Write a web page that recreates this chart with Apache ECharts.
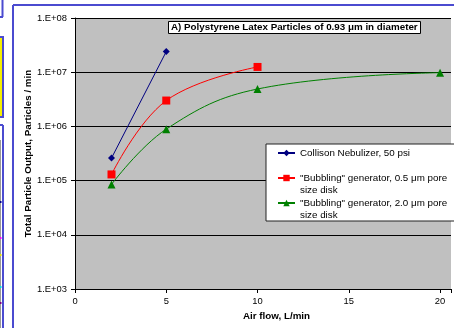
<!DOCTYPE html>
<html>
<head>
<meta charset="utf-8">
<script src="https://cdn.jsdelivr.net/npm/echarts@6/dist/echarts.min.js"></script>
<style>
html,body{margin:0;padding:0;background:#fff;}
#c{width:454px;height:328px;}
</style>
</head>
<body>
<div id="c"></div>
<script>
// ---- data ----
const titleText = 'A) Polystyrene Latex Particles of 0.93 μm in diameter';
const xAxisName = 'Air flow, L/min';
const yAxisName = 'Total Particle Output, Particles / min';
const seriesNames = [
  'Collison Nebulizer, 50 psi',
  '"Bubbling" generator, 0.5 μm pore\nsize disk',
  '"Bubbling" generator, 2.0 μm pore\nsize disk'
];
const collisonFlow = [2, 5];
const collisonOutput = [2.6e5, 2.4e7];
const bubbling05Flow = [2, 5, 10];
const bubbling05Output = [1.3e5, 3.0e6, 1.25e7];
const bubbling20Flow = [2, 5, 10, 20];
const bubbling20Output = [8.5e4, 8.9e5, 4.9e6, 9.8e6];
const xTicks = [0, 5, 10, 15, 20];

const font = 'Liberation Sans, Arial, sans-serif';
function pairs(xs, ys){ return xs.map((x,i)=>[x, ys[i]]); }

const chart = echarts.init(document.getElementById('c'), null, {renderer:'canvas'});
const option = {
  backgroundColor: '#ffffff',
  animation: false,
  title: {
    text: titleText,
    left: 168, top: 21,
    padding: [1, 3, 1, 3],
    backgroundColor: '#ffffff',
    borderColor: '#000000',
    borderWidth: 1,
    textStyle: {fontFamily: font, fontSize: 9.8, fontWeight: 'bold', color: '#000', lineHeight: 11}
  },
  legend: {
    orient: 'vertical',
    left: 277, top: 135,
    padding: 0,
    align: 'left',
    itemWidth: 17,
    itemHeight: 8,
    itemGap: -11,
    formatter: function(n){ return n.indexOf('\n') < 0 ? ' \n' + n + '\n ' : ' \n' + n; },
    textStyle: {fontFamily: font, fontSize: 9.8, color: '#000', lineHeight: 12},
    data: seriesNames
  },
  graphic: [
    // white legend box behind legend
    {type:'rect', z: 3, shape:{x:266, y:144, width:200, height:77},
     style:{fill:'#fff', stroke:'#222', lineWidth:1}},
    // outer blue frame of chart
    {type:'line', shape:{x1:13, y1:5, x2:454, y2:5}, style:{stroke:'#4b4bd0', lineWidth:2}},
    {type:'line', shape:{x1:13, y1:5, x2:13, y2:328}, style:{stroke:'#4b4bd0', lineWidth:2}},
    // fragments of neighbouring page elements on left
    {type:'line', shape:{x1:2.5, y1:0, x2:2.5, y2:17}, style:{stroke:'#4b4bd0', lineWidth:2}},
    {type:'line', shape:{x1:0, y1:17, x2:3, y2:17}, style:{stroke:'#4b4bd0', lineWidth:2}},
    {type:'rect', shape:{x:0, y:37, width:2, height:80}, style:{fill:'#f6f000'}},
    {type:'rect', shape:{x:-2, y:37, width:5, height:80}, style:{fill:'none', stroke:'#4b4bd0', lineWidth:2}},
    {type:'line', shape:{x1:0, y1:125, x2:3, y2:125}, style:{stroke:'#4b4bd0', lineWidth:2}},
    {type:'line', shape:{x1:3, y1:125, x2:3, y2:328}, style:{stroke:'#4b4bd0', lineWidth:2}},
    {type:'line', shape:{x1:0.5, y1:140, x2:0.5, y2:328}, style:{stroke:'#999', lineWidth:1}},
    {type:'rect', shape:{x:0, y:201, width:1.5, height:2}, style:{fill:'#00008b'}},
    {type:'rect', shape:{x:0, y:237, width:1.5, height:2}, style:{fill:'#ff00ff'}},
    {type:'rect', shape:{x:0, y:254, width:1.5, height:2}, style:{fill:'#e0e000'}},
    {type:'rect', shape:{x:0, y:286, width:1.5, height:2}, style:{fill:'#00e0e0'}},
    {type:'rect', shape:{x:0, y:302, width:1.5, height:2}, style:{fill:'#800080'}}
  ],
  grid: {
    left: 75, top: 18, right: 0, bottom: 39,
    show: true, backgroundColor: '#c0c0c0', borderWidth: 0
  },
  xAxis: {
    type: 'value', min: 0, max: 20.6, interval: 5,
    name: xAxisName, nameLocation: 'middle', nameGap: 17,
    nameTextStyle: {fontFamily: font, fontSize: 9.8, fontWeight: 'bold', color: '#000', padding: [0, 0, 0, 27]},
    axisLine: {show: true, onZero: false, lineStyle: {color: '#000', width: 1}},
    axisTick: {show: true, length: 4, lineStyle: {color: '#000'}},
    axisLabel: {fontFamily: font, fontSize: 9.4, color: '#000', margin: 8,
      formatter: function(v){ return xTicks.indexOf(v) >= 0 ? String(v) : ''; }},
    splitLine: {show: false}
  },
  yAxis: {
    type: 'log', logBase: 10, min: 1e3, max: 1e8,
    name: yAxisName, nameLocation: 'middle', nameGap: 42, nameMoveOverlap: false,
    nameTextStyle: {fontFamily: font, fontSize: 9.8, fontWeight: 'bold', color: '#000'},
    axisLine: {show: true, lineStyle: {color: '#000', width: 1}},
    axisTick: {show: true, length: 4, lineStyle: {color: '#000'}},
    minorTick: {show: false},
    axisLabel: {fontFamily: font, fontSize: 9.4, color: '#000', margin: 8,
      formatter: function(v){ const e = Math.round(Math.log10(v)); return '1.E+' + (e < 10 ? '0' : '') + e; }},
    splitLine: {show: true, lineStyle: {color: '#000', width: 1}}
  },
  series: [
    {name: seriesNames[0], type: 'line', data: pairs(collisonFlow, collisonOutput),
     symbol: 'diamond', symbolSize: 7, smooth: false,
     itemStyle: {color: '#000080'}, lineStyle: {color: '#000080', width: 1}},
    {name: seriesNames[1], type: 'line', data: pairs(bubbling05Flow, bubbling05Output),
     symbol: 'rect', symbolSize: 8, smooth: 0.4,
     itemStyle: {color: '#ff0000'}, lineStyle: {color: '#ff0000', width: 1}},
    {name: seriesNames[2], type: 'line', data: pairs(bubbling20Flow, bubbling20Output),
     symbol: 'triangle', symbolSize: 8, smooth: 0.4,
     itemStyle: {color: '#008000'}, lineStyle: {color: '#008000', width: 1}}
  ]
};
chart.setOption(option);
</script>
</body>
</html>
